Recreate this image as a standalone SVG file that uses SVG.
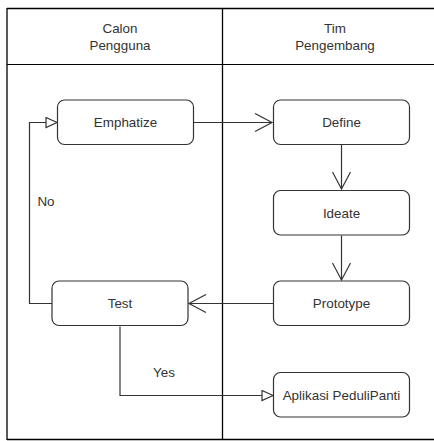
<svg xmlns="http://www.w3.org/2000/svg" width="434" height="441" viewBox="0 0 434 441">
<defs>
<style>
.frame{fill:none;stroke:#000;stroke-width:1.3}
.node rect{fill:#fff;stroke:#333;stroke-width:1.2}
text{font-family:"Liberation Sans",Arial,sans-serif;font-size:13.4px;fill:#333;text-anchor:middle;dominant-baseline:central}
.edge{fill:none;stroke:#333;stroke-width:1.2}
</style>
<marker id="open" viewBox="0 0 20 20" refX="18" refY="10" markerWidth="20" markerHeight="20" markerUnits="userSpaceOnUse" orient="auto">
<path d="M1,1 L18,10 L1,19" fill="none" stroke="#333" stroke-width="1.2"/>
</marker>
<marker id="tri" viewBox="0 0 14 12" refX="12" refY="6" markerWidth="14" markerHeight="12" markerUnits="userSpaceOnUse" orient="auto">
<path d="M1,1 L12,6 L1,11 Z" fill="#fff" stroke="#333" stroke-width="1.2"/>
</marker>
</defs>
<rect width="434" height="441" fill="#fff"/>
<g id="swimlanes">
<path class="frame" d="M7,8.5 H434 M7,8 V440 M7,439.5 H434 M222.5,8 V440"/>
<path d="M7,64.5 H434" stroke="#000" stroke-width="1"/>
<text x="120" y="28">Calon</text>
<text x="120" y="45">Pengguna</text>
<text x="335" y="28">Tim</text>
<text x="335" y="45">Pengembang</text>
</g>
<g id="connectors">
<path class="edge" d="M194,122.5 H272" marker-end="url(#open)"/>
<path class="edge" d="M341.5,144.5 V189" marker-end="url(#open)"/>
<path class="edge" d="M341.5,235.5 V280" marker-end="url(#open)"/>
<path class="edge" d="M273,303.5 H189" marker-end="url(#open)"/>
<path class="edge" d="M52,303.5 H29.5 V122.5 H57" marker-end="url(#tri)"/>
<path class="edge" d="M120,326.5 V395.5 H273" marker-end="url(#tri)"/>
<text x="46" y="201">No</text>
<text x="164" y="372">Yes</text>
</g>
<g id="emphatize" class="node"><rect x="57.5" y="100" width="136" height="44.5" rx="7"/><text x="125.5" y="122.5">Emphatize</text></g>
<g id="define" class="node"><rect x="273.5" y="100" width="136" height="44.5" rx="7"/><text x="341.5" y="122.5">Define</text></g>
<g id="ideate" class="node"><rect x="273.5" y="190.5" width="136" height="44.5" rx="7"/><text x="341.5" y="213">Ideate</text></g>
<g id="prototype" class="node"><rect x="273.5" y="281" width="136" height="44.5" rx="7"/><text x="341.5" y="303.5">Prototype</text></g>
<g id="test" class="node"><rect x="52" y="281" width="136" height="44.5" rx="7"/><text x="120" y="303.5">Test</text></g>
<g id="aplikasi" class="node"><rect x="273.5" y="372.5" width="136" height="44.5" rx="7"/><text x="341.5" y="395">Aplikasi PeduliPanti</text></g>
</svg>
